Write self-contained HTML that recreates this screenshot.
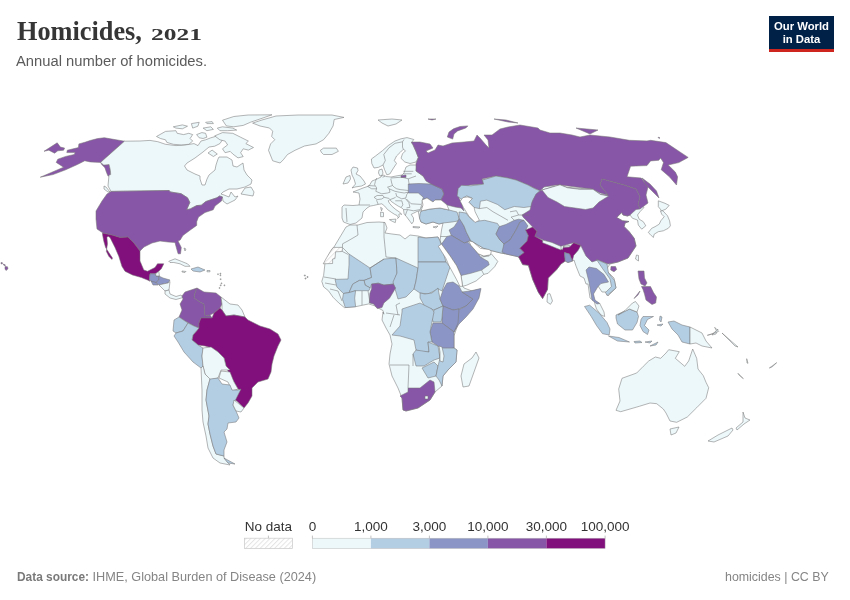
<!DOCTYPE html>
<html><head><meta charset="utf-8">
<style>
html,body{margin:0;padding:0;background:#fff;width:850px;height:600px;overflow:hidden;position:relative}
body{font-family:"Liberation Sans",sans-serif;color:#5b5b5b}
.t{position:absolute;white-space:nowrap;line-height:1;will-change:transform}
.os{display:inline-block;line-height:26.3px;margin-left:2.5px;transform:scale(0.97,0.62);transform-origin:0 22px}
#title{left:17px;top:19.2px;font-family:"Liberation Serif",serif;font-weight:bold;font-size:26.3px;color:#363636}
#sub{left:16.4px;top:54.4px;font-size:14.75px;color:#5b5b5b}
#logo{position:absolute;left:769px;top:16px;width:65px;height:36px;background:#002147;will-change:transform}
#logo .bar{position:absolute;left:0;bottom:0;width:65px;height:3.5px;background:#ce261e}
#logo .tx{position:absolute;left:0;width:65px;text-align:center;color:#fff;font-size:11.3px;font-weight:bold;line-height:11px}
#src{left:16.5px;top:570.9px;font-size:12.7px;color:#858585}
#src b{font-size:11.9px;color:#7a7a7a}
#lic{left:724.8px;top:570.9px;font-size:12.4px;color:#858585}
#land path{stroke:#777;stroke-width:0.55;stroke-linejoin:round}
.c1{fill:#edf8fb}.c2{fill:#b3cde3}.c3{fill:#8c96c6}.c4{fill:#8856a7}.c5{fill:#810f7c}.sea{fill:#fff}.ln{fill:none}.ws{fill:url(#hatch)}
.lg{position:absolute;font-size:13px;color:#1d1d1d}
</style></head><body>
<div id="title" class="t">Homicides, <span class="os">2021</span></div>
<div id="sub" class="t">Annual number of homicides.</div>
<div id="logo"><div class="tx" style="top:5.2px">Our World</div><div class="tx" style="top:17.5px">in Data</div><div class="bar"></div></div>
<svg id="map" width="850" height="600" style="position:absolute;left:0;top:0;will-change:transform" viewBox="0 0 850 600">
<g id="land">
<path class="c1" d="M418 210 430 200 445 190 460 185 500 176 540 185 600 190 640 205 644 207.5 640 211.7 637.5 215 639.2 219.2 643.3 221.7 645.8 225.8 641.7 229.2 638.3 225 637.5 220 632.5 218.3 630 215 627.5 216 623 215 621.7 212.5 616.7 217.5 622.5 220.8 629 221.5 625 223 624.2 226.7 629.2 231.7 634.2 238.3 636 246 628 258 618 262 610 264 606 270 614 278 616 288 608 296 606 292 602 292 598 286 596 282 592 290 595 304.5 596.5 309 601 315 604.7 316.5 604 312 599.5 303 594 301 590 298 588 284 586 284 584 278 580 276 576 266 574 260 572.3 261.1 568 262.5 565.2 261.1 561 263.9 556.7 269.6 548.2 278.1 547.5 289.4 542.6 298.6 538.3 292.2 532.7 279.5 528.4 265.3 522.7 264.6 518.5 256.8 506 254 505 253.8 500 252.8 491.3 250.6 483.8 248.4 470.8 240.8 470.8 245.2 478.3 253.8 483.8 256 490.3 254.9 491.3 253.8 497.8 261.4 494.6 266.8 488.1 273.3 483.8 274.4 476.2 280.9 466.4 285.3 462.6 286.3 461 275.5 456.7 265.8 450.2 256 441.5 244.1 440 241 441.5 230 443 223 439 224 433 222 426 224 421 222 419.5 218Z"/>
<path class="c4" d="M124.5 141.2 109.1 138.6 104.4 137.7 97.5 138.6 90.1 140.5 84.8 142.3 78.9 143.9 78.4 147.6 67.3 150.2 66.8 152.6 75.2 152.6 74.2 154.5 65.7 156.4 57.8 159.2 56.2 162.4 59.4 164.5 63.6 167.2 40.3 177.2 53 174.6 65.7 169.8 77.4 164.5 84.8 160.8 90.1 161.9 100.6 162.4 103.8 165.1 109.1 164.5 110.4 170.4 110.7 174.6 108.1 176.2 106.5 172.5 104.9 167.7 101.7 164.5 100.6 162.4Z"/>
<path class="c4" d="M44 151.3 57.2 142.8 60.4 147.1 64.6 148.1 63.6 150.2 57.8 150.8 54.6 153.2 48.8 150.2Z"/>
<path class="c4" d="M5 266.5 7.5 266.8 8 268.8 6 270.5 5 269Z"/>
<path class="c4" d="M1 262.5 2.5 262.8 2.2 264 1 263.8Z"/>
<path class="c4" d="M3.5 264 5.5 265 5 265.8 3.5 265Z"/>
<path class="c1" d="M124.5 141.2 140 141 150 140.4 157.8 141.7 165.5 144.3 176 145.6 185 145 194 143.6 198 145.6 201 141 205.6 139.8 210.8 137.8 217.3 135.9 222.5 139.8 219.9 143.6 214.7 146.2 209 147 203 152 195 158 187 163 184.5 166 187 170 195 174 200 176 200 179 202 185 205 185 207 179 209 175 215 170 216 165 218 159 219 157 227 157 232 160 233 166 237 167 243 163 244 170 247 175 252 180 251 184 245 187 237 189 229 189 223 192 221 194 224 195 229 197 231 192 235 197 238 196 235 200 227 204 223 201 222.4 196.9 219.6 196 216.9 197.8 205.9 201.5 201.3 205.2 196.7 205.6 190.3 208.9 186.6 209.8 189.8 202.4 187.5 197.8 181.1 193.7 170.1 191.9 169.2 190.5 111 191.4 108 186 109 175 110.7 174.6 110.4 170.4 109.1 164.5 103.8 165.1 100.6 162.4Z"/>
<path class="c1" d="M241 194 245 188 251 187 254 192 253 196 247 195Z"/>
<path class="c1" d="M104 186 106 187 110 192 108 192 104 189Z"/>
<path class="c1" d="M156.5 136.5 165.5 131.4 175.9 130.7 177.2 133.3 183.6 134.6 188.8 133.3 192.7 134.6 190.1 138.5 192.7 141.1 188.8 144.3 181.1 144.9 173.3 144.3 166.8 142.4 165.5 139.8 160.4 138.5Z"/>
<path class="c1" d="M196.6 134.6 201.8 132.6 205.6 133.3 206.9 137.2 203.1 138.5 199.2 137.8Z"/>
<path class="c1" d="M214.7 135.9 222.5 132.6 232.8 133.3 240.6 137.2 248.4 141.1 245.8 143.6 253.5 147.5 248.4 150.1 243.2 148.8 240.6 152.7 243.2 156.6 238 157.9 232.8 154 230.2 151.4 225.1 152.7 222.5 148.8 227.6 144.9 225.1 141.1 219.9 139.8Z"/>
<path class="c1" d="M217.3 128.1 222.5 126.8 232.8 128.1 236.7 130.1 227.6 130.7 219.9 130.7Z"/>
<path class="c1" d="M222.5 120.2 233.8 116.5 248 115 272 114.8 262 118.3 250.8 122.1 243.2 125.4 233.8 126.8 226.3 125.9Z"/>
<path class="c1" d="M173.3 126.8 182.4 124.9 187.5 126.2 182.4 128.8 175.9 128.1Z"/>
<path class="c1" d="M191.4 123.6 199.2 122.3 197.9 126.2 192.7 128.1Z"/>
<path class="c1" d="M203.1 128.1 210.8 126.8 213.4 129.4 206.9 130.7Z"/>
<path class="c1" d="M205.6 122.3 212.1 121.6 213.4 123.6 206.9 123.6Z"/>
<path class="c1" d="M208 153 212.1 150.1 217.3 154 213.4 156.5Z"/>
<path class="c1" d="M252.6 123.1 262 120 276 116 298 115 332 115 344 117.4 334.2 119.5 333.1 125.9 328.9 133.3 323.6 139.7 316.1 143.9 304.5 146 295 150.3 287.5 154.5 283.3 159.8 280.1 163 272.7 160.8 268.5 150.3 270.6 143.9 274.8 139.7 271.7 136.5 272.7 131.2 269.5 128 260 126Z"/>
<path class="c1" d="M320.4 150.3 323.6 148.1 336.3 148.1 338.4 151.3 332 154.5 323.6 154.5 321.4 152.4Z"/>
<path class="c1" d="M378 120 392 119 402 120 396 124 388 126 382 123Z"/>
<path class="c4" d="M111 191.4 169.2 190.5 170.1 191.9 181.1 193.7 187.5 197.8 189.8 202.4 186.6 209.8 190.3 208.9 196.7 205.6 201.3 205.2 205.9 201.5 216.9 197.8 219.6 196 222.4 196.9 221.5 201 215 206.1 213.2 209.8 205 212.5 198.5 217.1 196.7 221.7 196.7 225.4 190.3 230 182.9 235.5 180.2 240 178 241 181.3 247.5 180.5 253.8 178.1 253.8 176.3 247.5 175 242.5 168 242 160 241 152 243 144 247 140 251 134 243 128 237 120 237.4 112 235 103 233 97 229 96 219 96 211 102 201 107 194Z"/>
<path class="c5" d="M102.5 233 112 235 120 237.4 128 237 134 243 140 251 140 261 143.8 270 147.5 271.3 155 267.5 157.5 263.8 163.8 263.8 161.3 268.8 158.8 271.3 155.6 273.8 150 273.8 149.4 279.4 150 281.3 147.5 280 141.3 277.5 132.5 275 125 271.3 121.9 266.3 118.8 256.3 115 247.5 110 237.5 108.1 236.3 106.9 237.5 107.5 243.8 106.3 251.3 108.8 256.3 111.9 259.4 112.5 258.1 108.8 252.5 105.6 247.5 103.8 241.3 102.5 234.4Z"/>
<path class="c3" d="M150 273.8 155.6 273.8 156 276 158.8 276 158.8 280 156 282.5 152 282 149.4 279.4Z"/>
<path class="c1" d="M155.6 273.8 158.8 271.3 159.4 276 156 276Z"/>
<path class="c3" d="M158.8 276 163 278 170 280 168 283 163 284 159 285 156 282.5 158.8 280Z"/>
<path class="c3" d="M151 281 156 282.5 158 285 153 285Z"/>
<path class="c1" d="M159 285 163 284 168 283 170 281.5 169 290 165 291 161 287Z"/>
<path class="c1" d="M165 291 169 290 170 294 176 296.5 181 295 183 297.5 176 299.5 170 298 165 294Z"/>
<path class="c1" d="M168.8 261.3 175 258.8 181.3 261.3 187.5 263.8 190 266.3 185 266.3 180 263.8 173.8 262.5 170 262.5Z"/>
<path class="c2" d="M191 269 198 267 205 270 200 272 193 271Z"/>
<path class="c1" d="M182 271 186 271.5 185 272.5 182 272Z"/>
<path class="c1" d="M207 270.5 210 270.5 210 271.8 207 271.8Z"/>
<path class="c1" d="M184 248 186 249 185 251Z"/>
<path class="c4" d="M182 296 185 292 194 289 197 288 195 293 194 298 200 302 204 304 205 316 210 315 212 318 201 318 199 323 199 328 194 326 185 321 179 317 182 310 180 304 183 299Z"/>
<path class="c4" d="M197 288 204 292 216 293 221 297 222 304 220 308 214 313 210 315 205 316 204 304 200 302 194 298 195 293Z"/>
<path class="c1" d="M221 297 230 304 238 305 242 310 245 317 234 315 226 316 222 310 222 304Z"/>
<path class="c5" d="M214 313 220 308 222 310 226 316 234 315 245 317 248 320 260 326 270 329 278 334 281 340 278 346 274 356 272 364 271 372 268 379 258 382 252 388 252 396 248 403 244 408 238 402 234 399 240 390 238 389 234 382 230 376 226 366 224 358 218 352 212 348 205 346 198 345 192 340 193 335 199 328 199 323 201 318 212 318Z"/>
<path class="c2" d="M179 317 185 321 188 323 183 331 176 333 173 331 174 320Z"/>
<path class="c2" d="M176 333 183 331 188 323 194 326 199 328 193 335 192 340 198 345 203 348 202 356 203 366 201 368 193 362 184 352 178 342 174 336Z"/>
<path class="c1" d="M203 348 211 347 218 352 224 358 226 366 230 370 221 370 218 378 210 380 205 374 203 366 202 356Z"/>
<path class="c1" d="M221 371 230 372 234 382 238 389 232 391 228 382 219 378Z"/>
<path class="c1" d="M201 368 203 366 205 374 210 379 207 390 206 400 209 416 208 424 210 434 213 446 216 454 224 456 224 458 230 465 220 463 213 458 208 448 206 436 203 422 202 410 202 390Z"/>
<path class="c2" d="M210 379 218 378 222 384 230 385 232 390 238 390 241 389 236 399 233 405 236 411 239 418 236 422 228 423 227 429 224 432 227 442 224 450 224 456 216 454 213 446 210 434 208 424 209 416 206 400 207 390Z"/>
<path class="c2" d="M224 458 235 464 228 463Z"/>
<path class="c1" d="M234 400 244 408 241 412 236 411 233 405Z"/>
<path class="c1" d="M371.4 159 375.5 156 382.3 150.8 388.3 145.5 395 141 401 138.8 407 137.6 413.8 139.5 411.5 142.5 413 144.8 416 151.5 418.3 157.5 416 162 410 163.5 404.8 162 401 158.3 402.5 153.8 405.5 150.8 403.3 149.3 400.3 152.3 396.5 156 394.3 160.5 396.5 163.5 393.5 168 389.8 174 386.8 174.8 384.5 169.5 383 165 378.5 167.3 374 168 371.8 163.5Z"/>
<path class="c1" d="M353 167 357.5 168 358 170.5 356 174 360 176 364 181 365.5 184 361.5 186 355 187 352 188 355.5 184 354 179 352 175 351 170Z"/>
<path class="c1" d="M343 184 346 177 350 175.5 350.5 179 348 183Z"/>
<path class="c1" d="M350 224.5 356 223 362 218 363 212 367 208 370 206.1 373.5 205.5 378.2 204.4 381.8 203.8 384.7 206.1 387.6 209.6 391.8 212.6 394.7 214.4 397.1 215.5 398.2 217.3 397.6 218.5 399.4 216.7 398.8 214.4 400 213.8 401.8 214.4 399.4 212 395.9 209.6 392.4 206.7 389.4 203.2 388.2 200.8 390 199.6 391.2 201.4 394.7 203.8 398.2 206.1 401.8 207.9 403.5 209.6 404.1 213.8 406.5 216.7 410 221.4 411.8 223.8 413.5 221.4 413.5 217.9 411.2 214.4 413.5 213.2 417.1 211.4 420 210.8 421 207 421.7 204.7 422.5 199.7 428 196 440 190 430 182 426 178 416 171 417 165 410 165 406 167 405 170 404 173 402 175 396 176 391 177 386 176.5 384 175 380 176 378.5 173 379 170 382 169 383 173 381 177 377 179 372 181 369 186 363 188 353 192 359 193 360 199 359 205 353 205.5 344 205 342 207 342 218 343.5 222Z"/>
<path class="c1" d="M389.4 219.6 395.9 219.1 395.3 222.6 392.4 221.4Z"/>
<path class="c1" d="M380.6 212 383.5 212.6 383.5 216.7 380.6 216.7Z"/>
<path class="c1" d="M380.6 207.3 382.4 208.5 381.5 210.8Z"/>
<path class="c1" d="M413 226.5 420 227 419 228 413 227.5Z"/>
<path class="c1" d="M433 227 438 226 436 228Z"/>
<path class="c3" d="M408.3 184 419 183.5 431 184 442 189 444 194 441 200 435 200 433 202 427 198 422.5 199.7 423.3 197.2 418.3 193 408.3 193Z"/>
<path class="c4" d="M411.5 142 413 142 420 142 430 144 433 148 426 151 428 153 435 150 438 145 443 146 452 143 464 142 474 141 477 135 480 138 486 145 489 148 488 140 484 135 492 135 500 129 508 127 520 125 538 128 540 130 550 133 560 133 572 135 580 137 590 135 610 137 629.4 140.3 647 140.9 650.6 140.3 665.9 142.6 680 152 688.2 157.4 678.8 162.6 668.2 165 675.3 172 677.6 176.8 676.5 185 669.4 176.8 661.2 169.7 663.5 162.6 660.6 158 658.8 160.3 650.6 160.9 647 165.6 630.6 166.2 627 176.8 641.2 178 648 187 646 195 648 203 640 209 638 204 640 197 636 189 624 185 602 179 600 185 608 195 600 193 592 189 576 187 560 185 556 185 544 187 540 191 528 185 516 180 508 178 496 176 482 179 484 184 470 185 458 189 458 190 459 198 462 204 464 211 461 208 455 207 447 205 441 200 444 194 442 189 431 184 426 181 423 176 416 171 416 163.5 418.3 157.5 416 151.5 413 144.8 411.5 142.5Z"/>
<path class="c4" d="M401 175.5 406 175 406 177.5 401 177.5Z"/>
<path class="c4" d="M447.3 137 449 132 453.5 128.8 460 126.5 467.9 125.9 465.8 128 457.6 130.9 454 134 452.7 139.1Z"/>
<path class="c4" d="M494 119 506 120 518 123 508 122Z"/>
<path class="c4" d="M428 119 436 119 432 120Z"/>
<path class="c4" d="M576 128 598 130 590 134Z"/>
<path class="c4" d="M642 178 650 184 656.5 191 659 198 654 193 646 185Z"/>
<path class="c4" d="M658 137.2 660 137.8 659 138.5Z"/>
<path class="c2" d="M420 214 421 211 430 209 440 208 449 210 457 212 459 218 458 221 452 222 443 223 439 224 433 222 426 224 421 222 419.5 218Z"/>
<path class="c2" d="M458.2 188.5 461.4 185.3 470.9 185.8 483.6 184.2 482.5 180 496 176 508 178 516 180 528 185 534.4 188.5 539.7 190.6 533.4 199.1 531.3 206.5 523.9 207.5 514.3 206.5 504.8 209.7 497.4 204.4 486.8 200.1 480.4 201.2 479.4 208.6 474.1 207.5 468.8 202.2 472 198 466.7 195.9 461.4 199.1 457.1 195.9Z"/>
<path class="c3" d="M458 221 460 218 464 226 466.4 232.2 470.8 240.8 467.5 241.9 464.3 243 451.3 235.4 449.1 230 454 227Z"/>
<path class="c3" d="M441.5 244.1 446.9 236.5 451.3 235.4 464.3 243 467.5 241.9 470.8 245.2 478.3 253.8 480.5 257.1 488.1 261.4 489.2 264.7 481.6 270.1 470.8 273.3 461 275.5 456.7 265.8 450.2 256Z"/>
<path class="c2" d="M459 212 466 213 470 218 475 222 476.2 221.3 484.7 220.3 497.4 223.4 499.5 226.6 496 234 500 240 504 244 505 253.8 500 252.8 491.3 250.6 483.8 248.4 470.8 240.8 466.4 232.2 464 226 459 218Z"/>
<path class="c3" d="M499.5 226.6 505.8 224.5 514.3 220.3 518.6 219.2 523.9 220.3 520 222 516 230 510 240 504 244 500 240 496 234Z"/>
<path class="c3" d="M523.9 220.3 528 226 525.6 229.9 528.4 235.6 527 241.2 519.9 248.3 524.2 252.6 518.5 256.8 506 254 502 252 504 244 510 240 516 230 520 222Z"/>
<path class="c4" d="M522 215 530 210 532 202 536 194 540 191 542 190 560 184.8 567.5 187.8 579.5 189.3 593 189.3 600.5 194.5 608 195 600 185 602 179 624 185 636 189 640 197 638 204 640 209 636 209.5 630 215 627.5 216 623 215 621.7 212.5 616.7 217.5 622.5 220.8 629 221.5 625 223 624.2 226.7 629.2 231.7 634.2 238.3 636 246 628 258 618 262 608 264 598 260 592 262 586 256 580.8 245.5 573.7 242.7 563.8 245.5 561 246.2 542.6 239.8 534.8 236.3 536.9 231.3 532.7 227.1 528 222 523 217Z"/>
<path class="c1" d="M542 190 560 184.8 567.5 187.8 579.5 189.3 593 189.3 600.5 194.5 608.7 196 599 202 593 208 585.5 209.5 575 208 564.5 206.5 557 202 548 197.5Z"/>
<path class="c4" d="M611 266.5 615.5 266.5 616.7 269.5 614 271.8 610.7 270Z"/>
<path class="c1" d="M636.5 255 638.5 255.5 638.5 261 635.5 259Z"/>
<path class="c5" d="M525.6 229.9 532.7 227.1 536.9 231.3 534.8 236.3 542.6 240.5 556.7 248.3 562.4 249.7 563.8 246.2 569.5 246.9 573.7 242.7 580.8 245.5 578 250.5 573.7 255.4 572.3 261.1 569.5 254 564.5 252.6 565.2 261.1 561 263.9 556.7 269.6 548.2 278.1 547.5 289.4 542.6 298.6 538.3 292.2 532.7 279.5 528.4 265.3 522.7 264.6 518.5 256.8 524.2 252.6 519.9 248.3 527 241.2 528.4 235.6Z"/>
<path class="c3" d="M564.5 252.6 569.5 254 572.3 261.1 568 262.5 565.2 261.1Z"/>
<path class="c1" d="M542.6 240 552 242.5 561 246.5 561 250 556.7 248.3 542.6 242.7Z"/>
<path class="c1" d="M563.8 246.2 569.5 245.5 569.5 246.9 563.8 247.5Z"/>
<path class="c1" d="M547.5 294 550 293.7 552.5 301 550.5 304.3 547 302Z"/>
<path class="c3" d="M589 267 596.5 268.5 604 274.5 608.5 282 601 283.5 598 286.5 593.5 294 595 300 599.5 303.5 597 304 592 300 590.5 291 589 282 586 270Z"/>
<path class="c2" d="M596.5 259.5 607 264 608.5 273 614.5 280.5 616 288 607 295.5 605.5 292.5 611.5 286.5 610 279 602.5 268.5Z"/>
<path class="c1" d="M662.9 210.8 667.5 215.8 669.6 220.8 670.4 225.8 668.3 228.3 663.3 230.8 658.3 231.7 654.2 234.2 653.3 237.5 650 234.2 648.3 232.5 651.7 228.3 655 226.7 659.2 224.2 660.8 220.8 664.2 216.7 661.7 214.2 660.4 210.8Z"/>
<path class="c1" d="M658.3 200.8 665 203.3 669.2 205.4 665.8 209.2 661.7 210.8 658.3 206.7Z"/>
<path class="c4" d="M638 271 644 271 644.5 278 647 283 645 286 641 284 639 279Z"/>
<path class="c4" d="M641.5 286.5 650.5 286.5 653.5 292.5 656.5 297 655.7 303 652 304.5 646 300 644.5 294 643 289.5Z"/>
<path class="c4" d="M634 298.5 640 291 638 295Z"/>
<path class="c2" d="M584.5 306.5 589.7 305.2 599.5 313.5 607 322.5 610 329 609.2 335 602.5 333.7 596.5 325.5 591.2 316.5 586.2 309Z"/>
<path class="c2" d="M608.5 336 619 337.5 629.5 342 617.5 341Z"/>
<path class="c2" d="M634 341.5 640 341 642 342.5 635 343Z"/>
<path class="c2" d="M645 342 652 341 650 343Z"/>
<path class="c2" d="M650 346 658 342 656 345Z"/>
<path class="c2" d="M616 315 629.5 309 637 312 638.5 316.5 637 322.5 632.5 330 625 330 617.5 324 616 318Z"/>
<path class="c1" d="M618 315 625 310.5 632.5 303 635.5 301.5 639 306 637 312 629.5 309Z"/>
<path class="c2" d="M643 316.5 653.5 316.5 647.5 319.5 644.5 325.5 649 330 647.5 334.5 643 331.5 640 325.5 641 319.5Z"/>
<path class="c2" d="M660 316 662 317 661 322 659.5 320Z"/>
<path class="c2" d="M657 325 663 324 661 326Z"/>
<path class="c2" d="M668 322 674 321 682 325 690 327 690 344 682 342 678 335 672 329Z"/>
<path class="c1" d="M690 327 702 333 706 341 712 348 702 346 696 343 690 344Z"/>
<path class="c1" d="M712 335 718 329 716 334Z"/>
<path class="c1" d="M722 333 738 347 735 346Z"/>
<path class="c1" d="M707.3 335.3 714 333.3 718.7 331.3 714.7 327.3 716.5 331 712 334Z"/>
<path class="c1" d="M746.7 358.7 748 363.3 747 363Z"/>
<path class="c1" d="M769.3 368 776.7 362.7 772 367Z"/>
<path class="c1" d="M738 373.3 743.3 378.7 739 375Z"/>
<path class="c1" d="M350 225 358 225 367 222.5 379 222 385 222.5 387 228 385 233 392 234 400 235 405 239 410 235 418 236 426 238 438 237 440 241 448 259 456 275 460 283 464 288 472 291 480 289 478 299 468 313 460 321 458 324 454 336 454 348 457 350 456 362 448 370 443 376 442 386 435 392 430 400 418 408 406 411 403 410 402 398 398 388 392 376 389 364 390 354 392 344 390 335 386 328 382 320 383 312 383.9 314.2 383 310.5 379.2 308.6 374.5 305.8 368.8 303.9 355.6 306.7 344.4 307.6 338.7 302.9 333.1 297.3 328.4 290.7 323.6 286.9 321.8 281.3 323.6 275.6 325 263 332 249 334 247 340 237 346 227Z"/>
<path class="c1" d="M476 352 479 358 474 372 469 386 463 387 461 376 464 364 472 358Z"/>
<path class="c2" d="M418 237 426 238 438 237 440 241 446 262 418 262Z"/>
<path class="c2" d="M349 254 370 268 371.6 277.5 364.1 280.4 359.4 280.4 352.8 284.1 349 292.6 343.4 293.5 336.8 286.9 335 279.4 348 279 349 265Z"/>
<path class="c2" d="M370 268 384 259 396 258 397 273 393.3 284.1 383.9 285.1 378.2 283.2 371.6 284.1 370.2 287.9 365.1 285.1 364.1 280.4 371.6 277.5Z"/>
<path class="c2" d="M396 258 418 268 416 281 414 289 406 297 398 299 393 282 397 273Z"/>
<path class="c2" d="M418 262 446 262 450 267 446 279 442 291 438 289 428 294 420 293 414 289 416 281 418 268Z"/>
<path class="c2" d="M420 293 425 294 432 293 438 288 440 299 443 306 434 310 425 307 420 298Z"/>
<path class="c3" d="M440 299 443 290 447 283 453 282 459 286 462 292 473 299 466 306 459 309 453 310 447 308 443 306Z"/>
<path class="c3" d="M462 292 470 291 481 288.5 479 298 473 309 466 317 459 324 454 332 458 310 466 306 473 299Z"/>
<path class="c3" d="M443 306 453 310 459 309 458 323 454 332 450 329 442 323 442 318Z"/>
<path class="c3" d="M433 323 442 323 450 329 454 332 454 336 454 348 444 350 432 342 430 332Z"/>
<path class="c2" d="M434 310 443 306 442 318 441 322 433 322 432 317Z"/>
<path class="c2" d="M402 309 420 303 432 309 434 312 432 322 430 332 432 342 428 342 429 352 422 352 416 350 414 340 400 336 392 335 400 326 402 312Z"/>
<path class="c2" d="M413 354 416 350 429 352 428 342 438 346 440 358 434 360 424 366 416 366Z"/>
<path class="c2" d="M422 368 434 362 438 366 436 376 428 378Z"/>
<path class="c2" d="M440 348 454 348 457 350 456 362 448 370 443 376 442 386 439 380 436 376 438 366 440 358Z"/>
<path class="c1" d="M439 346 442 347 444 356 443 362 440 361 440 352Z"/>
<path class="c4" d="M400 396 408 392 408 388 420 388 430 380 434 382 435 392 430 400 418 408 406 411 403 410 402 398Z"/>
<path class="c1" d="M425 396 428 396 428 399 425 399Z"/>
<path class="c4" d="M371.6 284.1 378.2 283.2 383.9 285.1 393.3 284.1 395.6 287.9 392.4 293.5 389.5 298.2 383.9 302.9 382 307.6 377.3 308.6 373.5 303.9 369.3 302.9 369.8 293.5 371.6 288.8Z"/>
<path class="c2" d="M349 292.6 352.8 284.1 359.4 280.4 364.1 280.4 365.1 285.1 370.2 287.9 368.8 290.7 355.6 290.7Z"/>
<path class="c2" d="M343.4 293.5 349 292.6 355.6 290.7 354.7 298.2 355.6 306.7 345.3 307.6 342.5 299.2Z"/>
<path class="c1" d="M616 410.3 620 401 618.7 389 622 378.3 636.7 373 643.3 366.3 648.7 361 655.3 357 660.7 358.3 666 353 668.7 349.7 679.3 351.7 675.3 358.3 684.7 366.3 688.7 361 692.7 349 696.7 358.3 698 369 703.3 375.7 706 382.3 708.7 387.7 706 398.3 696.7 407.7 687.3 417 676.7 422.3 670 421 666 413 663.3 409 656.7 403.7 650 403 639.3 406.3 630 409 620.7 411.7Z"/>
<path class="c1" d="M670 429 679 427 676 433 671 435Z"/>
<path class="c1" d="M708 441 718 435 732 428 733 430 728 436 714 442Z"/>
<path class="c1" d="M736 428 743 422 743 412 745 418 750 420 744 424 737 430Z"/>
<path class="sea" d="M460.3 201.2 463 197.5 467.7 197 472.5 198.5 468.8 202.2 474.1 207.5 475.1 211.8 479.4 220.3 475.1 222.4 468.8 216 463.5 207.5Z"/>
<path class="sea" d="M422 200 427 198 433 202 435 200 441 200 447 205 449 210 440 208 430 209 421 211 423 205Z"/>
<path class="sea" d="M468.6 240.8 472.9 241.9 480.5 248.4 489.2 249.5 491.3 251.7 490.3 254.9 483.8 256 478.3 253.8 470.8 245.2Z"/>
<path class="sea" d="M438.3 246.3 441.5 244.1 450.2 256 456.7 265.8 461 275.5 462.6 286.3 459.9 286.3 456.7 279.8 449.1 265.8 445.8 258.2Z"/>
<path class="ln" d="M383 165 385.3 160.5 383.8 154.5 389 147.8 395 143.3 402.5 141.8 404 139.5"/>
<path class="ln" d="M402.5 141.8 402.5 147 403.3 149.3"/>
<path class="ln" d="M376.7 178 375.4 181.3 374.6 184.7 376.7 188 375.8 191.3 377.9 192.2"/>
<path class="ln" d="M368.3 185.5 375 186"/>
<path class="ln" d="M367.5 186.3 371.7 188.8 376.7 188.8"/>
<path class="ln" d="M377.9 192.2 381.7 193.8 387.5 193 390 192.2 389.2 188.8 387.5 187.2"/>
<path class="ln" d="M387.5 187.2 392.5 185.5 394.2 187.2 396.7 188.8"/>
<path class="ln" d="M390.8 178.8 391.7 183 392.5 185.5"/>
<path class="ln" d="M382.5 177.2 385 176.3"/>
<path class="ln" d="M408.3 178.8 409.2 184.7"/>
<path class="ln" d="M396.7 188.8 400.8 189.7 404.2 190 408.3 190.5"/>
<path class="ln" d="M390.8 178 401.7 177.2 408.3 178.8"/>
<path class="ln" d="M403.3 173.8 411.7 173.8"/>
<path class="ln" d="M403.3 171.3 413.3 171.3"/>
<path class="ln" d="M408.3 178.8 416 176"/>
<path class="ln" d="M389.2 188.8 395 191.3 399.2 192.2"/>
<path class="ln" d="M399.2 192.2 404.2 193 408.3 192.2"/>
<path class="ln" d="M384.1 197.3 389.4 198.5"/>
<path class="ln" d="M395.8 193 396.7 196.3"/>
<path class="ln" d="M396.7 196.3 401.7 198.8 405.8 198"/>
<path class="ln" d="M408.3 192.2 406.7 194.7 405.8 198"/>
<path class="ln" d="M374.1 197.3 377.1 195.5 382.9 195.5 384.1 197.3 381.8 199 377.1 199.6 374.1 197.3"/>
<path class="ln" d="M376.5 200.2 378.2 204.4"/>
<path class="ln" d="M390 199.6 394.7 197.9 395.9 196.7"/>
<path class="ln" d="M395.3 200.8 401.8 200.8 402.9 204.9 401.2 207.3"/>
<path class="ln" d="M405.3 198.5 408.8 202.6 410 207.3 406.5 207.9"/>
<path class="ln" d="M406.5 199 411.2 203.8 421 204.4"/>
<path class="ln" d="M407.6 209.6 413.5 210.8 420 209.6"/>
<path class="ln" d="M403.5 209.6 407.6 209.6 406.5 212 405.3 215.5"/>
<path class="ln" d="M359 205 370 205"/>
<path class="ln" d="M346 208 347 222"/>
<path class="ln" d="M357 225 358 235 355 236.8 348 240.9 342.6 243.8 342.4 247.4"/>
<path class="ln" d="M342.4 247.4 349 254"/>
<path class="ln" d="M342.4 251.5 348 254.4"/>
<path class="ln" d="M384 222 384 237 386 257 396 258"/>
<path class="ln" d="M370 268 384 259"/>
<path class="ln" d="M324 277 336 279"/>
<path class="ln" d="M325 283 336 285"/>
<path class="ln" d="M330 289 338 291 342 301"/>
<path class="ln" d="M362 291 362 305"/>
<path class="ln" d="M368 291 370 303"/>
<path class="ln" d="M400 303 396 305 398 315"/>
<path class="ln" d="M386 313 400 315"/>
<path class="ln" d="M390 327 394 315"/>
<path class="ln" d="M390 365 409 365"/>
<path class="ln" d="M409 365 408 388"/>
<path class="ln" d="M413 354 413 366"/>
<path class="ln" d="M479.4 208.6 486.8 207.5 493.1 211.8 500.5 216 508 220.3"/>
<path class="ln" d="M510 211.8 516.4 210.7 518.6 215 511.1 217.1 514.3 220.3"/>
<path class="ln" d="M518.6 215 529.2 215"/>
<path class="ln" d="M481.6 270.1 483.8 274.4"/>
<path class="ln" d="M480.5 257.1 489.2 256"/>
<path class="ln" d="M440.4 236.5 446.9 236.5"/>
<path class="ws" d="M333.2 247.4 342.4 247.4 342.4 251.5 335.6 251.8 335 258.5 332.6 259.1 332.6 263.5 323.2 263.8 326.8 257.4 330.3 251.5Z"/>
<path class="c1" d="M217.6 273.8 218.4 273.8 218.4 274.6 217.6 274.6Z"/>
<path class="c1" d="M220 273.2 220.8 273.2 220.8 274.1 220 274.1Z"/>
<path class="c1" d="M220 274.9 220.8 274.9 220.8 275.8 220 275.8Z"/>
<path class="c1" d="M220.2 278.8 221.1 278.8 221.1 279.6 220.2 279.6Z"/>
<path class="c1" d="M221.1 282.9 221.9 282.9 221.9 283.8 221.1 283.8Z"/>
<path class="c1" d="M220.2 284.9 221.1 284.9 221.1 285.8 220.2 285.8Z"/>
<path class="c1" d="M224 284.9 224.8 284.9 224.8 285.8 224 285.8Z"/>
<path class="c1" d="M219.1 287.6 219.9 287.6 219.9 288.4 219.1 288.4Z"/>
<path class="c1" d="M304.3 275 305.3 275 305.3 276 304.3 276Z"/>
<path class="c1" d="M307 276.5 308 276.5 308 277.5 307 277.5Z"/>
<path class="c1" d="M305 278 306 278 306 279 305 279Z"/>
</g><!--land-->
<defs><pattern id="hatch" patternUnits="userSpaceOnUse" width="3.4" height="3.4" patternTransform="rotate(45)"><rect width="3.4" height="3.4" fill="#fff"/><rect width="1" height="3.4" fill="#e4e4e4"/></pattern></defs>
<g id="legend" font-family="Liberation Sans, sans-serif" font-size="13.5" fill="#333" text-anchor="middle">
<text x="268.4" y="531.2">No data</text>
<rect x="244.5" y="538.2" width="47.9" height="10.3" fill="url(#hatch)" stroke="#c8c8c8" stroke-width="0.7"/>
<line x1="268.4" y1="535.6" x2="268.4" y2="538.2" stroke="#999" stroke-width="0.6"/>
<rect x="312.4" y="538.2" width="58.5" height="10.3" fill="#edf8fb"/>
<rect x="370.9" y="538.2" width="58.5" height="10.3" fill="#b3cde3"/>
<rect x="429.4" y="538.2" width="58.5" height="10.3" fill="#8c96c6"/>
<rect x="487.9" y="538.2" width="58.5" height="10.3" fill="#8856a7"/>
<rect x="546.4" y="538.2" width="58.7" height="10.3" fill="#810f7c"/>
<rect x="312.4" y="538.2" width="292.7" height="10.3" fill="none" stroke="#bbb" stroke-width="0.5"/>
<g stroke="#999" stroke-width="0.6"><line x1="312.4" y1="535.6" x2="312.4" y2="538.2"/><line x1="370.9" y1="535.6" x2="370.9" y2="538.2"/><line x1="429.4" y1="535.6" x2="429.4" y2="538.2"/><line x1="487.9" y1="535.6" x2="487.9" y2="538.2"/><line x1="546.4" y1="535.6" x2="546.4" y2="538.2"/><line x1="605.1" y1="535.6" x2="605.1" y2="538.2"/></g>
<text x="312.4" y="531.2">0</text><text x="370.9" y="531.2">1,000</text><text x="429.4" y="531.2">3,000</text><text x="487.9" y="531.2">10,000</text><text x="546.4" y="531.2">30,000</text><text x="605.1" y="531.2">100,000</text>
</g>
</svg>
<div id="src" class="t"><b>Data source:</b> IHME, Global Burden of Disease (2024)</div>
<div id="lic" class="t">homicides | CC BY</div>
</body></html>
